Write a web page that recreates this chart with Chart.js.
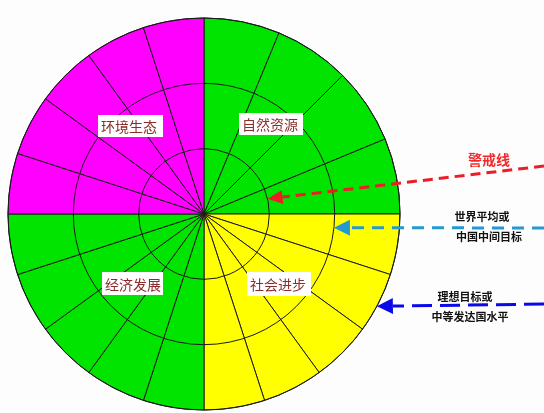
<!DOCTYPE html>
<html>
<head>
<meta charset="utf-8">
<script src="https://cdn.jsdelivr.net/npm/chart.js@4.4.1/dist/chart.umd.min.js"></script>
<style>
  html, body { margin: 0; padding: 0; background: #fdfdfe; }
  #wrap { width: 544px; height: 413px; }
</style>
</head>
<body>
<div id="wrap"><canvas id="wheel" width="544" height="413"></canvas></div>
<script>
// Dimensions, clockwise from 12 o'clock
const dimensions = ['自然资源', '社会进步', '经济发展', '环境生态'];
const indicatorCounts = [4, 5, 5, 5];
const dimensionColors = ['#00e400', '#ffff00', '#00e400', '#ff00ff'];

// Rings: 1 = 警戒线, 2 = 世界平均, 3 = 理想目标
const levelValues = [1, 2, 3];
const levelNames = [['警戒线'], ['世界平均或', '中国中间目标'], ['理想目标或', '中等发达国水平']];
const indicatorScore = 3;

// Build one sector per indicator
const sectorLabels = [];
const sectorValues = [];
const sectorAngles = [];
const sectorColors = [];
dimensions.forEach((dim, d) => {
    for (let i = 0; i < indicatorCounts[d]; i++) {
        sectorLabels.push(dim + (i + 1));
        sectorValues.push(indicatorScore);
        sectorAngles.push(90 / indicatorCounts[d]);
        sectorColors.push(dimensionColors[d]);
    }
});

const FONT = '"Noto Sans CJK SC", "Noto Sans", sans-serif';

// Label boxes, relative to the wheel centre
const labelBoxes = [
    { dx: 35, dy: -101, w: 64, h: 22 },
    { dx: 43, dy: 58, w: 64, h: 24 },
    { dx: -102, dy: 58, w: 61, h: 23 },
    { dx: -106, dy: -99, w: 65, h: 22 }
];

// Arrows pointing at each ring
const arrowStyles = [
    { angle: -13.4, tail: [544, 166], color: '#ee1c25', dash: [10, 6], head: [15, 7],
      text: [[489, 160]], textColor: '#ee2a2a', font: 'bold 14px ' + FONT },
    { angle: 6, tail: [544, 228], color: '#2299d0', dash: [12, 8], head: [16, 8],
      text: [[482, 217], [489, 237]], textColor: '#111', font: 'bold 11px ' + FONT },
    { angle: 28.1, tail: [544, 304], color: '#0a0ae8', dash: [20, 8], head: [16, 8],
      text: [[465, 297], [470, 317]], textColor: '#111', font: 'bold 11px ' + FONT }
];

const overlayPlugin = {
    id: 'overlay',
    afterDraw(chart) {
        const ctx = chart.ctx;
        const r = chart.scales.r;
        const cx = r.xCenter, cy = r.yCenter;

        // Dimension labels
        ctx.save();
        ctx.font = '14px ' + FONT;
        ctx.textBaseline = 'middle';
        ctx.textAlign = 'left';
        dimensions.forEach((dim, d) => {
            const b = labelBoxes[d];
            ctx.fillStyle = '#ffffff';
            ctx.fillRect(cx + b.dx, cy + b.dy, b.w, b.h);
            ctx.fillStyle = '#8b2b2b';
            ctx.fillText(dim, cx + b.dx + 3, cy + b.dy + b.h / 2 + 1);
        });
        ctx.restore();

        // Level arrows
        levelValues.forEach((lv, i) => {
            const s = arrowStyles[i];
            const dist = r.getDistanceFromCenterForValue(lv);
            const a = s.angle * Math.PI / 180;
            const tipX = cx + dist * Math.cos(a);
            const tipY = cy + dist * Math.sin(a);
            const [tx, ty] = s.tail;
            const len = Math.hypot(tx - tipX, ty - tipY);
            const ux = (tx - tipX) / len, uy = (ty - tipY) / len;
            const bx = tipX + ux * s.head[0], by = tipY + uy * s.head[0];

            ctx.save();
            ctx.strokeStyle = s.color;
            ctx.lineWidth = 3;
            ctx.setLineDash(s.dash);
            ctx.beginPath();
            ctx.moveTo(tx, ty);
            ctx.lineTo(bx, by);
            ctx.stroke();
            ctx.setLineDash([]);
            ctx.fillStyle = s.color;
            ctx.beginPath();
            ctx.moveTo(tipX, tipY);
            ctx.lineTo(bx - uy * s.head[1], by + ux * s.head[1]);
            ctx.lineTo(bx + uy * s.head[1], by - ux * s.head[1]);
            ctx.closePath();
            ctx.fill();

            ctx.font = s.font;
            ctx.fillStyle = s.textColor;
            ctx.textAlign = 'center';
            ctx.textBaseline = 'middle';
            levelNames[i].forEach((line, k) => {
                ctx.fillText(line, s.text[k][0], s.text[k][1]);
            });
            ctx.restore();
        });
    }
};

new Chart(document.getElementById('wheel').getContext('2d'), {
    type: 'polarArea',
    data: {
        labels: sectorLabels,
        datasets: [{
            data: sectorValues,
            backgroundColor: sectorColors,
            borderColor: '#1a1a1a',
            borderWidth: 1,
            angle: (ctx) => sectorAngles[ctx.dataIndex]
        }]
    },
    options: {
        responsive: false,
        animation: false,
        layout: { padding: { left: 8, right: 144, top: 18, bottom: 3 } },
        scales: {
            r: {
                min: 0,
                max: 3,
                ticks: { display: false, stepSize: 1 },
                grid: { circular: true, color: '#1a1a1a', lineWidth: 1, z: 1 },
                angleLines: { display: false },
                pointLabels: { display: false }
            }
        },
        plugins: {
            legend: { display: false },
            tooltip: { enabled: false }
        }
    },
    plugins: [overlayPlugin]
});
</script>
</body>
</html>
